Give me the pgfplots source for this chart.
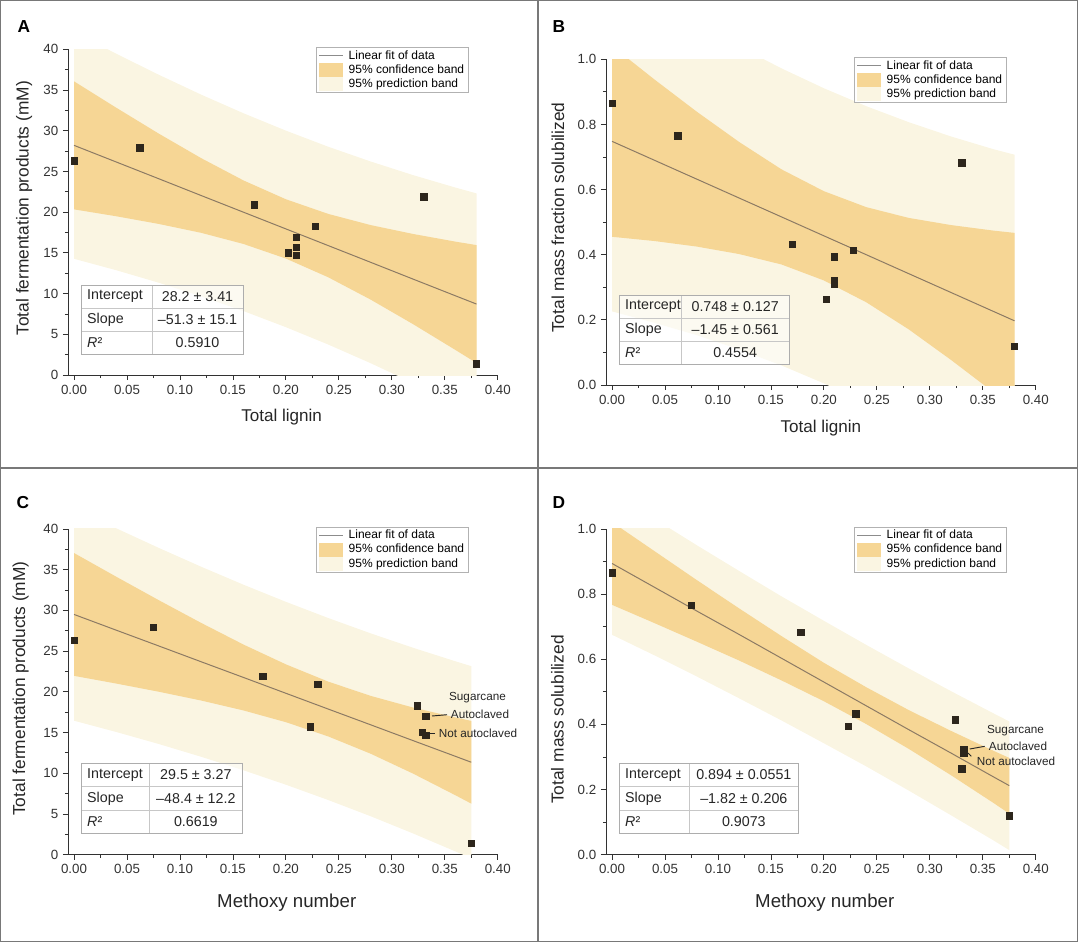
\documentclass[border=0pt]{standalone}
\usepackage{pgfplots}
\pgfplotsset{compat=1.18}
\usepackage{pgfplotstable}
\usepgfplotslibrary{fillbetween}
\usepackage{fontspec}
\setmainfont{Liberation Sans}
\definecolor{confcol}{RGB}{246,214,149}
\definecolor{predcol}{RGB}{250,245,226}
\definecolor{fitcol}{RGB}{140,122,100}
\definecolor{markcol}{RGB}{45,38,28}
\definecolor{axcol}{RGB}{50,50,50}
\definecolor{framecol}{RGB}{120,120,120}

% x  fit  conf-upper conf-lower pred-upper pred-lower
\pgfplotstableread{
x fit cu cl pu pl
0.00 28.20 36.06 20.34 42.14 14.27
0.04 26.15 32.81 19.49 39.44 12.86
0.08 24.10 29.64 18.55 36.87 11.33
0.12 22.04 26.63 17.46 34.43 9.66
0.16 19.99 23.89 16.09 32.14 7.85
0.20 17.94 21.58 14.30 30.01 5.87
0.24 15.89 19.78 12.00 28.03 3.74
0.28 13.84 18.41 9.26 26.22 1.45
0.32 11.78 17.32 6.25 24.55 -0.98
0.36 9.73 16.38 3.08 23.02 -3.56
0.38 8.71 15.95 1.47 22.30 -4.89
}\bandA
\pgfplotstableread{
x fit cu cl pu pl
0.00 0.748 1.041 0.455 1.270 0.226
0.04 0.690 0.938 0.442 1.189 0.191
0.08 0.632 0.839 0.425 1.111 0.153
0.12 0.574 0.746 0.402 1.039 0.109
0.16 0.516 0.662 0.370 0.972 0.060
0.20 0.458 0.595 0.321 0.911 0.005
0.24 0.400 0.546 0.254 0.856 -0.056
0.28 0.342 0.513 0.171 0.807 -0.123
0.32 0.284 0.491 0.077 0.763 -0.195
0.36 0.226 0.474 -0.022 0.724 -0.272
0.38 0.197 0.467 -0.073 0.707 -0.313
}\bandB
\pgfplotstableread{
x fit cu cl pu pl
0.000 29.50 37.04 21.96 42.55 16.45
0.040 27.56 34.12 21.01 40.07 15.06
0.080 25.63 31.25 20.01 37.67 13.59
0.120 23.69 28.46 18.93 35.36 12.02
0.160 21.76 25.80 17.71 33.15 10.36
0.200 19.82 23.37 16.27 31.05 8.59
0.240 17.88 21.25 14.52 29.06 6.71
0.280 15.95 19.50 12.40 27.18 4.72
0.320 14.01 18.07 9.96 25.41 2.61
0.360 12.08 16.85 7.30 23.75 0.40
0.375 11.35 16.43 6.27 23.15 -0.45
}\bandC
\pgfplotstableread{
x fit cu cl pu pl
0.000 0.894 1.021 0.767 1.113 0.675
0.040 0.821 0.932 0.711 1.031 0.612
0.080 0.748 0.843 0.654 0.950 0.547
0.120 0.676 0.756 0.596 0.871 0.480
0.160 0.603 0.671 0.535 0.793 0.412
0.200 0.530 0.589 0.471 0.718 0.342
0.240 0.457 0.514 0.401 0.644 0.271
0.280 0.384 0.444 0.325 0.572 0.197
0.320 0.312 0.380 0.244 0.502 0.121
0.360 0.239 0.319 0.159 0.434 0.044
0.375 0.212 0.297 0.126 0.409 0.014
}\bandD

\pgfplotstableread{
x y
0.000 26.3
0.062 27.9
0.170 20.9
0.202 15.0
0.210 16.9
0.210 15.7
0.210 14.7
0.228 18.3
0.330 21.9
0.380 1.4
}\ptsA
\pgfplotstableread{
x y
0.000 0.865
0.062 0.765
0.170 0.432
0.202 0.263
0.210 0.394
0.210 0.321
0.210 0.310
0.228 0.414
0.330 0.682
0.380 0.119
}\ptsB
\pgfplotstableread{
x y
0.000 26.3
0.075 27.9
0.178 21.9
0.223 15.7
0.230 20.9
0.324 18.3
0.332 17.0
0.329 15.0
0.332 14.7
0.375 1.4
}\ptsC
\pgfplotstableread{
x y
0.000 0.866
0.075 0.765
0.178 0.682
0.223 0.395
0.230 0.432
0.324 0.414
0.332 0.323
0.332 0.311
0.330 0.264
0.375 0.120
}\ptsD

\pgfplotsset{
  panel/.style={
    scale only axis, width=322.3pt, height=244.3pt, anchor=south west,
    axis lines=left, axis line style={-, draw=axcol, line width=0.7pt},
    xmin=-0.0057, xmax=0.40,
    xtick={0,0.05,0.10,0.15,0.20,0.25,0.30,0.35,0.40},
    minor x tick num=1, minor y tick num=1,
    tick align=outside, major tick length=3.8pt, minor tick length=2.3pt,
    tick style={draw=axcol, line width=0.6pt},
    x tick label style={/pgf/number format/.cd, fixed, fixed zerofill, precision=2, /tikz/.cd},
    tick label style={font=\fontsize{10}{12}\selectfont, text=axcol},
    /pgf/number format/assume math mode=true,
    label style={text=black!85},
    xlabel style={anchor=center},
    ylabel style={anchor=center},
    clip mode=individual,
    reverse legend,
    legend cell align=left,
    legend style={draw=black!30, line width=0.6pt, fill=white,
      font=\fontsize{9}{10}\selectfont, at={(0.933,1.007)}, anchor=north east,
      inner xsep=2pt, inner ysep=1pt, row sep=0pt, nodes={inner sep=1.3pt},
      /tikz/every odd column/.append style={column sep=2.5pt}},
  },
  yfrac/.style={ymin=0, ymax=1, ytick={0,0.2,0.4,0.6,0.8,1.0},
    y tick label style={/pgf/number format/.cd, fixed, fixed zerofill, precision=1, /tikz/.cd}},
  ymm/.style={ymin=0, ymax=40, ytick={0,5,10,15,20,25,30,35,40}},
  predleg/.style={legend image code/.code={\fill[predcol] (0pt,-5.2pt) rectangle (18pt,5.2pt);}},
  confleg/.style={legend image code/.code={\fill[confcol] (0pt,-5.2pt) rectangle (18pt,5.2pt);}},
  lineleg/.style={legend image code/.code={\draw[black!45, line width=0.8pt] (0pt,0pt) -- (18pt,0pt);}},
}

\newcommand\bands[2]{%
  \addplot[draw=none, name path=pu#2, forget plot] table[x=x,y=pu]{#1};
  \addplot[draw=none, name path=pl#2, forget plot] table[x=x,y=pl]{#1};
  \addplot[draw=none, name path=cu#2, forget plot] table[x=x,y=cu]{#1};
  \addplot[draw=none, name path=cl#2, forget plot] table[x=x,y=cl]{#1};
  \addplot[fill=predcol, draw=none, predleg] fill between[of=pu#2 and pl#2];
  \addlegendentry{95\% prediction band}
  \addplot[fill=confcol, draw=none, confleg] fill between[of=cu#2 and cl#2];
  \addlegendentry{95\% confidence band}
  \addplot[fitcol, line width=0.75pt, lineleg] table[x=x,y=fit]{#1};
  \addlegendentry{Linear fit of data}
}

\newcommand\fittable[8]{%
  \pgfmathsetmacro\rA{#4+(#5-#4)/3}
  \pgfmathsetmacro\rB{#4+2*(#5-#4)/3}
  \pgfmathsetmacro\cA{(#4+\rA)/2}
  \pgfmathsetmacro\cB{(\rA+\rB)/2}
  \pgfmathsetmacro\cC{(\rB+#5)/2}
  \pgfmathsetmacro\colx{(#2+#3)/2}
  \fill[white, opacity=0.55] (#1,#4) rectangle (#3,#5);
  \draw[black!22, line width=0.5pt] (#2,#4) -- (#2,#5) (#1,\rA) -- (#3,\rA) (#1,\rB) -- (#3,\rB);
  \draw[black!32, line width=0.7pt] (#1,#4) rectangle (#3,#5);
  \node[anchor=west, font=\tabfont, text=black!85] at (#1+1.5,\cA) {Intercept};
  \node[anchor=west, font=\tabfont, text=black!85] at (#1+1.5,\cB) {Slope};
  \node[anchor=west, font=\tabfont, text=black!85] at (#1+1.5,\cC) {\textit{R}²};
  \node[font=\tabfont, text=black!85] at (\colx,\cA) {#6};
  \node[font=\tabfont, text=black!85] at (\colx,\cB) {#7};
  \node[font=\tabfont, text=black!85] at (\colx,\cC) {#8};
}
\newcommand\tabfont{\fontsize{10.7}{12}\selectfont}
\newcommand\annfont{\fontsize{8.8}{10}\selectfont}

\begin{document}
\begin{tikzpicture}
% Panel A
\begin{axis}[panel, ymm, at={(51pt,-281.25pt)},
  xlabel={Total lignin}, ylabel={Total fermentation products (mM)},
  xlabel style={at={(axis description cs:0.497,-0.128)}, font=\fontsize{12.8}{15}\selectfont},
  ylabel style={at={(axis description cs:-0.1023,0.512)}, font=\fontsize{13}{15}\selectfont}]
  \bands{\bandA}{A}
  \addplot[only marks, mark=square*, mark size=2.4pt, markcol, forget plot] table[x=x,y=y]{\ptsA};
\end{axis}
% Panel B
\begin{axis}[panel, yfrac, at={(454.5pt,-288.75pt)},
  xlabel={Total lignin}, ylabel={Total mass fraction solubilized},
  xlabel style={at={(axis description cs:0.50,-0.133)}, font=\fontsize{12.8}{15}\selectfont},
  ylabel style={at={(axis description cs:-0.1116,0.514)}, font=\fontsize{13}{15}\selectfont}]
  \bands{\bandB}{B}
  \addplot[only marks, mark=square*, mark size=2.4pt, markcol, forget plot] table[x=x,y=y]{\ptsB};
\end{axis}
% Panel C
\begin{axis}[panel, ymm, at={(51pt,-641.0pt)},
  xlabel={Methoxy number}, ylabel={Total fermentation products (mM)},
  xlabel style={at={(axis description cs:0.509,-0.148)}, font=\fontsize{14}{16}\selectfont},
  ylabel style={at={(axis description cs:-0.110,0.51)}, font=\fontsize{13}{15}\selectfont}]
  \bands{\bandC}{C}
  \addplot[only marks, mark=square*, mark size=2.4pt, markcol, forget plot] table[x=x,y=y]{\ptsC};
\end{axis}
% Panel D
\begin{axis}[panel, yfrac, at={(454.5pt,-641.0pt)},
  xlabel={Methoxy number}, ylabel={Total mass solubilized},
  xlabel style={at={(axis description cs:0.509,-0.148)}, font=\fontsize{14}{16}\selectfont},
  ylabel style={at={(axis description cs:-0.113,0.415)}, font=\fontsize{13}{15}\selectfont}]
  \bands{\bandD}{D}
  \addplot[only marks, mark=square*, mark size=2.4pt, markcol, forget plot] table[x=x,y=y]{\ptsD};
\end{axis}

\begin{scope}[x=0.75pt, y=-0.75pt]
  \draw[framecol, line width=1.1pt] (0.7,0.7) rectangle (1077.3,941.3);
  \draw[framecol, line width=1.1pt] (538,0) -- (538,942);
  \draw[framecol, line width=1.1pt] (0,468) -- (1078,468);
  \node[font=\fontsize{13}{15}\selectfont\bfseries] at (24,27) {A};
  \node[font=\fontsize{13}{15}\selectfont\bfseries] at (559,27) {B};
  \node[font=\fontsize{13}{15}\selectfont\bfseries] at (23,503) {C};
  \node[font=\fontsize{13}{15}\selectfont\bfseries] at (559,503) {D};
  \fittable{81}{152}{243}{285}{354}{28.2 ± 3.41}{–51.3 ± 15.1}{0.5910}
  \fittable{619}{681.3}{789}{295}{364.3}{0.748 ± 0.127}{–1.45 ± 0.561}{0.4554}
  \fittable{81}{149}{242.7}{763}{833.7}{29.5 ± 3.27}{–48.4 ± 12.2}{0.6619}
  \fittable{619}{689.7}{798}{763}{833.7}{0.894 ± 0.0551}{–1.82 ± 0.206}{0.9073}
  % annotations C
  \node[font=\annfont, text=black!85] at (477.5,698) {Sugarcane};
  \node[font=\annfont, text=black!85] at (480,714) {Autoclaved};
  \draw[black!85, line width=0.7pt] (432,716) -- (447,714.7);
  \node[font=\annfont, text=black!85] at (478,733.7) {Not autoclaved};
  \draw[black!85, line width=0.7pt] (428,733) -- (435,733);
  % annotations D
  \node[font=\annfont, text=black!85] at (1015.5,730.3) {Sugarcane};
  \node[font=\annfont, text=black!85] at (1018,746.3) {Autoclaved};
  \draw[black!85, line width=0.7pt] (969.7,749) -- (984.7,746.3);
  \node[font=\annfont, text=black!85] at (1016,761.3) {Not autoclaved};
  \draw[black!85, line width=0.7pt] (968,753) -- (971.3,756.3);
  \pgfresetboundingbox
  \path[use as bounding box] (0,0) rectangle (1078,942);
\end{scope}
\end{tikzpicture}
\end{document}
